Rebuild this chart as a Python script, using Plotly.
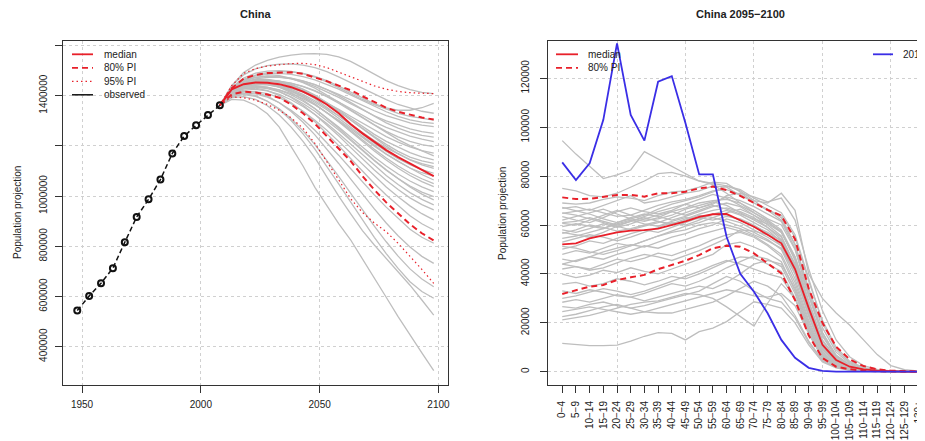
import plotly.graph_objects as go

# ---------------- data: left panel (total population, thousands) ----------------
obs_years = [1948, 1953, 1958, 1963, 1968, 1973, 1978, 1983, 1988, 1993, 1998, 2003, 2008]
obs_pop = [544000, 602000, 653000, 713000, 816000, 917000, 987000, 1066000, 1170000,
           1239000, 1282000, 1323000, 1361700]

proj_years = [2008, 2013, 2018, 2023, 2028, 2033, 2038, 2043, 2048, 2053, 2058, 2063,
              2068, 2073, 2078, 2083, 2088, 2093, 2098]

median_pop = [1361700, 1425000, 1446000, 1453000, 1452000, 1446000, 1434000, 1416000, 1393000,
              1365000, 1330000, 1287000, 1250000, 1215000, 1183000, 1155000, 1130000, 1104000, 1080000]
pi80_up_pop = [1361700, 1430000, 1468000, 1483000, 1490000, 1493000, 1493000, 1487000, 1474000,
               1458000, 1440000, 1422000, 1398000, 1374000, 1352000, 1336000, 1324000, 1313000, 1305000]
pi80_lo_pop = [1361700, 1405000, 1416000, 1413000, 1405000, 1392000, 1365000, 1330000, 1288000,
               1240000, 1190000, 1140000, 1080000, 1025000, 975000, 930000, 888000, 852000, 823000]
pi95_up_pop = [1361700, 1440000, 1489000, 1508000, 1518000, 1524000, 1528000, 1529000, 1524000,
               1512000, 1494000, 1474000, 1455000, 1439000, 1426000, 1417000, 1412000, 1409000, 1408000]
pi95_lo_pop = [1361700, 1395000, 1392000, 1382000, 1365000, 1342000, 1312000, 1270000, 1210000,
               1140000, 1065000, 990000, 935000, 893000, 858000, 812000, 762000, 708000, 652000]

sim_L01 = [1361700, 1440000, 1492000, 1522000, 1541000, 1554000, 1562000, 1567000, 1568000, 1565000, 1555000, 1537000, 1512000, 1485000, 1460000, 1440000, 1424000, 1413000, 1408000]
sim_L02 = [1361700, 1425000, 1462000, 1482000, 1492000, 1496000, 1495000, 1489000, 1477000, 1460000, 1438000, 1414000, 1390000, 1368000, 1351000, 1342000, 1342000, 1352000, 1369000]
sim_L03 = [1361700, 1440000, 1483000, 1507000, 1520000, 1526000, 1527000, 1522000, 1512000, 1496000, 1475000, 1452000, 1428000, 1405000, 1384000, 1365000, 1350000, 1338000, 1330000]
sim_L04 = [1361700, 1432000, 1470000, 1490000, 1498000, 1500000, 1497000, 1488000, 1474000, 1455000, 1432000, 1408000, 1385000, 1364000, 1346000, 1330000, 1318000, 1309000, 1303000]
sim_L05 = [1361700, 1420000, 1452000, 1467000, 1473000, 1473000, 1468000, 1458000, 1444000, 1426000, 1405000, 1383000, 1361000, 1340000, 1321000, 1305000, 1292000, 1283000, 1277000]
sim_L06 = [1361700, 1428000, 1460000, 1474000, 1478000, 1475000, 1467000, 1454000, 1437000, 1416000, 1393000, 1368000, 1343000, 1320000, 1300000, 1283000, 1268000, 1257000, 1250000]
sim_L07 = [1361700, 1418000, 1446000, 1458000, 1461000, 1458000, 1450000, 1437000, 1420000, 1399000, 1375000, 1349000, 1322000, 1296000, 1274000, 1255000, 1239000, 1227000, 1217000]
sim_L08 = [1361700, 1430000, 1465000, 1480000, 1484000, 1480000, 1469000, 1452000, 1430000, 1404000, 1375000, 1344000, 1313000, 1284000, 1258000, 1236000, 1218000, 1205000, 1197000]
sim_L09 = [1361700, 1412000, 1436000, 1445000, 1446000, 1440000, 1429000, 1414000, 1395000, 1372000, 1346000, 1318000, 1290000, 1262000, 1237000, 1215000, 1196000, 1181000, 1171000]
sim_L10 = [1361700, 1422000, 1452000, 1464000, 1465000, 1458000, 1445000, 1426000, 1402000, 1374000, 1343000, 1310000, 1277000, 1246000, 1218000, 1194000, 1173000, 1156000, 1144000]
sim_L11 = [1361700, 1415000, 1440000, 1449000, 1448000, 1440000, 1425000, 1405000, 1380000, 1351000, 1319000, 1286000, 1253000, 1221000, 1192000, 1167000, 1145000, 1129000, 1117000]
sim_L12 = [1361700, 1426000, 1455000, 1465000, 1464000, 1455000, 1439000, 1416000, 1388000, 1355000, 1320000, 1283000, 1246000, 1211000, 1178000, 1149000, 1125000, 1105000, 1091000]
sim_L13 = [1361700, 1408000, 1428000, 1434000, 1432000, 1423000, 1408000, 1388000, 1363000, 1334000, 1302000, 1268000, 1233000, 1199000, 1167000, 1138000, 1112000, 1086000, 1064000]
sim_L14 = [1361700, 1418000, 1443000, 1451000, 1449000, 1438000, 1420000, 1396000, 1367000, 1333000, 1296000, 1257000, 1218000, 1180000, 1144000, 1111000, 1082000, 1058000, 1038000]
sim_L15 = [1361700, 1410000, 1432000, 1438000, 1434000, 1422000, 1403000, 1378000, 1348000, 1313000, 1275000, 1235000, 1195000, 1156000, 1120000, 1088000, 1060000, 1037000, 1018000]
sim_L16 = [1361700, 1422000, 1447000, 1453000, 1448000, 1434000, 1412000, 1383000, 1349000, 1311000, 1270000, 1227000, 1184000, 1143000, 1105000, 1070000, 1040000, 1016000, 998000]
sim_L17 = [1361700, 1405000, 1422000, 1425000, 1419000, 1405000, 1384000, 1357000, 1325000, 1289000, 1249000, 1207000, 1164000, 1122000, 1082000, 1046000, 1014000, 987000, 965000]
sim_L18 = [1361700, 1415000, 1436000, 1440000, 1433000, 1417000, 1393000, 1362000, 1325000, 1284000, 1240000, 1194000, 1148000, 1104000, 1063000, 1026000, 993000, 966000, 945000]
sim_L19 = [1361700, 1400000, 1415000, 1416000, 1408000, 1392000, 1368000, 1338000, 1302000, 1262000, 1218000, 1172000, 1125000, 1079000, 1036000, 997000, 961000, 930000, 905000]
sim_L20 = [1361700, 1410000, 1428000, 1430000, 1420000, 1400000, 1372000, 1337000, 1296000, 1250000, 1201000, 1150000, 1099000, 1050000, 1004000, 961000, 922000, 890000, 865000]
sim_L21 = [1361700, 1398000, 1410000, 1407000, 1394000, 1372000, 1342000, 1305000, 1262000, 1214000, 1163000, 1110000, 1057000, 1005000, 956000, 910000, 868000, 836000, 812000]
sim_L22 = [1361700, 1405000, 1418000, 1414000, 1398000, 1372000, 1337000, 1294000, 1244000, 1189000, 1130000, 1069000, 1008000, 949000, 893000, 842000, 797000, 760000, 732000]
sim_L23 = [1361700, 1395000, 1404000, 1397000, 1378000, 1348000, 1308000, 1260000, 1205000, 1144000, 1079000, 1012000, 945000, 880000, 818000, 761000, 710000, 670000, 639000]
sim_L24 = [1361700, 1400000, 1408000, 1400000, 1378000, 1345000, 1301000, 1248000, 1187000, 1120000, 1049000, 977000, 905000, 836000, 771000, 712000, 659000, 620000, 593000]
sim_L25 = [1361700, 1392000, 1396000, 1385000, 1360000, 1323000, 1275000, 1218000, 1153000, 1075000, 1000000, 930000, 862000, 805000, 752000, 700000, 645000, 586000, 526000]
sim_L26 = [1361700, 1385000, 1382000, 1362000, 1328000, 1275000, 1197000, 1120000, 1035000, 963000, 890000, 826000, 751000, 672000, 597000, 520000, 445000, 375000, 305000]
sim_L27 = [1361700, 1420000, 1448000, 1460000, 1462000, 1456000, 1443000, 1424000, 1400000, 1371000, 1338000, 1303000, 1267000, 1232000, 1199000, 1169000, 1144000, 1124000, 1110000]
sim_L28 = [1361700, 1414000, 1442000, 1455000, 1459000, 1457000, 1449000, 1436000, 1418000, 1396000, 1370000, 1341000, 1310000, 1280000, 1251000, 1225000, 1201000, 1180000, 1160000]
sim_L29 = [1361700, 1425000, 1457000, 1472000, 1477000, 1476000, 1470000, 1459000, 1444000, 1424000, 1400000, 1373000, 1345000, 1317000, 1292000, 1271000, 1254000, 1242000, 1235000]
sim_L30 = [1361700, 1412000, 1436000, 1444000, 1443000, 1435000, 1420000, 1400000, 1374000, 1344000, 1310000, 1274000, 1237000, 1201000, 1168000, 1138000, 1112000, 1093000, 1080000]
sim_L31 = [1361700, 1416000, 1440000, 1447000, 1444000, 1434000, 1417000, 1394000, 1366000, 1334000, 1299000, 1262000, 1224000, 1187000, 1152000, 1120000, 1092000, 1069000, 1050000]
sim_L32 = [1361700, 1418000, 1446000, 1457000, 1458000, 1452000, 1439000, 1420000, 1396000, 1368000, 1337000, 1304000, 1270000, 1237000, 1206000, 1178000, 1155000, 1140000, 1130000]
sim_L33 = [1361700, 1426000, 1462000, 1480000, 1488000, 1489000, 1485000, 1476000, 1463000, 1446000, 1426000, 1403000, 1380000, 1357000, 1336000, 1318000, 1304000, 1295000, 1290000]
sim_L34 = [1361700, 1408000, 1428000, 1433000, 1428000, 1415000, 1395000, 1369000, 1338000, 1302000, 1263000, 1222000, 1181000, 1141000, 1103000, 1068000, 1036000, 1008000, 985000]

left_sims = [sim_L01, sim_L02, sim_L03, sim_L04, sim_L05, sim_L06, sim_L07, sim_L08, sim_L09,
             sim_L10, sim_L11, sim_L12, sim_L13, sim_L14, sim_L15, sim_L16, sim_L17, sim_L18,
             sim_L19, sim_L20, sim_L21, sim_L22, sim_L23, sim_L24, sim_L25, sim_L26, sim_L27,
             sim_L28, sim_L29, sim_L30, sim_L31, sim_L32, sim_L33, sim_L34]

# ---------------- data: right panel (age distribution 2095-2100) ----------------
age_labels = ["0−4", "5−9", "10−14", "15−19", "20−24", "25−29", "30−34", "35−39", "40−44",
              "45−49", "50−54", "55−59", "60−64", "65−69", "70−74", "75−79", "80−84", "85−89",
              "90−94", "95−99", "100−104", "105−109", "110−114", "115−119", "120−124",
              "125−129", "130+"]

pop_2010 = [85600, 78400, 85200, 103000, 134300, 105000, 94500, 118600, 120900, 101600, 80700,
            80700, 55200, 40000, 32700, 23900, 13000, 5700, 1600, 300, 30, 0, 0, 0, 0, 0, 0]
age_median = [52100, 52500, 54500, 55800, 57000, 57700, 57900, 58500, 59900, 61500, 63300, 64400,
              64500, 62000, 59300, 56000, 52500, 42000, 26000, 11000, 4800, 2050, 980, 400, 150, 50, 20]
age_pi80_up = [71300, 70600, 70700, 71600, 72300, 72300, 71600, 73000, 73000, 73600, 75000, 75700,
               74300, 71900, 68900, 66200, 63800, 54200, 34000, 20000, 10200, 5000, 2300, 980, 400, 150, 50]
age_pi80_lo = [31800, 33400, 34800, 35500, 37500, 38600, 39600, 41900, 43600, 45400, 47700, 50500,
               51500, 51100, 48400, 44300, 40200, 29300, 14800, 5600, 2050, 980, 400, 150, 50, 20, 10]

sim_R01 = [94500, 89000, 84000, 79000, 80500, 82500, 90000, 87000, 84000, 81000, 78000, 76500, 73000, 69000, 65000, 61500, 57000, 47000, 31000, 16000, 6500, 2700, 1000, 400, 150, 50, 20]
sim_R02 = [75000, 74000, 72000, 71500, 73000, 75500, 78000, 81000, 81500, 80000, 78000, 77000, 76000, 74000, 70000, 66000, 62000, 52000, 34000, 18000, 8000, 3300, 1300, 500, 180, 60, 20]
sim_R03 = [69000, 68500, 69000, 70500, 71500, 71000, 70000, 72000, 73500, 74000, 75500, 77500, 77000, 73500, 69000, 66000, 64000, 55000, 37000, 21000, 10000, 4200, 1700, 600, 200, 70, 20]
sim_R04 = [66800, 67500, 66000, 68000, 70000, 72000, 69000, 70000, 71500, 73000, 74000, 76000, 75500, 72000, 70000, 69000, 73000, 66000, 40000, 30000, 24000, 19000, 13000, 7000, 2500, 800, 300]
sim_R05 = [64800, 65500, 66500, 65000, 63500, 64000, 66000, 68000, 69500, 70500, 72000, 74000, 74500, 72500, 69000, 66500, 63000, 52000, 33000, 16000, 6800, 2800, 1100, 420, 150, 50, 20]
sim_R06 = [63400, 62000, 61000, 63000, 65500, 67000, 65500, 64500, 66000, 68500, 70500, 72500, 71000, 68000, 65000, 62000, 58000, 47000, 29000, 13000, 5500, 2200, 900, 350, 120, 40, 10]
sim_R07 = [62000, 63500, 65000, 66500, 64500, 62500, 61500, 63000, 65500, 67000, 69000, 70000, 70500, 69000, 66000, 62500, 60000, 50000, 31000, 14500, 6000, 2400, 950, 370, 130, 40, 10]
sim_R08 = [60700, 60000, 62000, 64000, 66000, 64000, 62000, 62500, 64000, 66500, 68000, 69500, 68000, 65000, 62000, 59000, 55000, 44000, 27000, 11500, 4800, 1900, 750, 300, 100, 30, 10]
sim_R09 = [59300, 60500, 59500, 58500, 61000, 63000, 64500, 63500, 62000, 63500, 65500, 67500, 69000, 67500, 64000, 60000, 55500, 43000, 25000, 10500, 4300, 1700, 700, 260, 90, 30, 10]
sim_R10 = [58000, 57000, 58500, 60500, 59000, 60500, 62500, 64000, 65500, 64000, 66000, 68000, 66500, 64500, 62500, 60500, 57000, 46000, 28000, 12500, 5200, 2100, 850, 330, 110, 40, 10]
sim_R11 = [56600, 58000, 60000, 59000, 57500, 58500, 60000, 61500, 60500, 62500, 64500, 66000, 67000, 65500, 63000, 59000, 54000, 41000, 23000, 9000, 3600, 1400, 550, 200, 70, 20, 10]
sim_R12 = [54500, 55500, 57000, 58500, 60500, 62000, 60500, 59500, 61500, 63000, 62500, 64500, 66000, 64000, 61000, 58000, 53000, 41500, 24500, 10000, 4000, 1600, 640, 240, 80, 30, 10]
sim_R13 = [50100, 51500, 53500, 52500, 54500, 56500, 58000, 57000, 59000, 61000, 63000, 62000, 63500, 62500, 60000, 56500, 51500, 40000, 22500, 9000, 3700, 1500, 600, 230, 80, 30, 10]
sim_R14 = [48000, 49500, 48500, 50500, 52500, 51500, 53500, 55500, 57500, 59500, 61000, 63000, 61500, 59500, 57000, 54000, 50000, 38000, 21000, 8200, 3300, 1300, 520, 200, 70, 20, 10]
sim_R15 = [46000, 45000, 47000, 49000, 50500, 52000, 51000, 53000, 55000, 56500, 58500, 60000, 62500, 61000, 58000, 55000, 51500, 41000, 24000, 9800, 4000, 1600, 640, 240, 80, 30, 10]
sim_R16 = [44000, 45500, 47000, 46000, 48000, 49500, 51500, 50500, 52500, 54000, 56000, 57500, 59000, 57500, 55500, 52000, 48000, 36500, 20000, 7600, 3000, 1200, 480, 180, 60, 20, 10]
sim_R17 = [42000, 43000, 42000, 44000, 46000, 45000, 46500, 48500, 47500, 49500, 51500, 54000, 56000, 57000, 55000, 51500, 47000, 35000, 19000, 7000, 2800, 1100, 440, 170, 60, 20, 10]
sim_R18 = [39900, 38500, 39500, 41500, 40500, 42500, 41000, 40000, 42000, 44000, 46000, 48000, 52000, 53000, 51000, 48500, 45000, 33000, 17500, 6500, 2600, 1000, 400, 150, 50, 20, 10]
sim_R19 = [35800, 36500, 35000, 36000, 38000, 37000, 35500, 37000, 39000, 38000, 40000, 42500, 45000, 47000, 46500, 44000, 41000, 30000, 15500, 5500, 2200, 900, 350, 130, 40, 10, 0]
sim_R20 = [33100, 32000, 33500, 32500, 31000, 30500, 32000, 34000, 36000, 35000, 37000, 39500, 42500, 45000, 47500, 46000, 43000, 32000, 17000, 6000, 2400, 950, 380, 140, 50, 20, 0]
sim_R21 = [28400, 29500, 28500, 30000, 31500, 30500, 29000, 30500, 32000, 33500, 35000, 34000, 36500, 40000, 44000, 45500, 44000, 34000, 18500, 7000, 2800, 1100, 440, 170, 60, 20, 10]
sim_R22 = [26600, 26000, 27500, 28500, 27000, 26000, 27000, 28500, 30000, 31500, 33000, 36000, 39000, 37000, 33000, 30000, 28500, 22000, 12000, 4500, 1800, 700, 280, 100, 30, 10, 0]
sim_R23 = [24600, 25500, 26500, 25500, 24500, 23500, 24500, 26000, 27500, 29000, 30500, 32000, 33500, 32500, 31000, 30500, 32000, 27000, 15500, 5800, 2300, 900, 360, 140, 50, 20, 0]
sim_R24 = [22500, 23500, 25000, 26500, 27500, 26000, 24500, 24000, 24000, 25500, 27000, 28500, 31000, 34000, 37000, 35000, 31000, 23000, 12500, 4700, 1900, 750, 300, 110, 40, 10, 0]
sim_R25 = [21200, 22000, 23000, 24500, 26000, 27500, 28500, 29000, 30500, 32000, 31500, 30000, 26500, 22500, 18700, 28000, 36000, 30000, 17000, 6500, 2600, 1000, 400, 150, 50, 20, 0]
sim_R26 = [11600, 11000, 10700, 10700, 10900, 12500, 14500, 16000, 15700, 13000, 16400, 17800, 20500, 24500, 28600, 27500, 26000, 20000, 11000, 4000, 1600, 600, 250, 90, 30, 10, 0]
sim_R27 = [61000, 61500, 63000, 61500, 60000, 61500, 63500, 65500, 67000, 68500, 67000, 69000, 71500, 70000, 67500, 64500, 61500, 50500, 32000, 15000, 6200, 2500, 1000, 380, 130, 40, 10]
sim_R28 = [57000, 56000, 55000, 57000, 59500, 61500, 63000, 61500, 60000, 62000, 64000, 63000, 65000, 66500, 64000, 61000, 57500, 45500, 27000, 11500, 4700, 1900, 760, 290, 100, 30, 10]
sim_R29 = [53000, 54500, 56000, 55000, 53500, 55000, 57000, 59000, 61000, 60000, 62000, 64500, 64000, 62000, 59500, 57000, 53500, 42500, 25500, 10500, 4300, 1700, 680, 260, 90, 30, 10]
sim_R30 = [67200, 66000, 64500, 62500, 61000, 62500, 64000, 66500, 68500, 70000, 71500, 73500, 76000, 74500, 71000, 68000, 65000, 56000, 38000, 20000, 9000, 3700, 1500, 560, 200, 60, 20]
sim_R31 = [65000, 64000, 62500, 61000, 59500, 58000, 59500, 61000, 63000, 65000, 67000, 68500, 72000, 73000, 71500, 69500, 71000, 62000, 42000, 25000, 13000, 6000, 2500, 900, 300, 100, 30]
sim_R32 = [51300, 50500, 49000, 48000, 49500, 51500, 53500, 55500, 57000, 58000, 60000, 61000, 60000, 58500, 56000, 53500, 50500, 40000, 23500, 9500, 3900, 1600, 640, 240, 80, 30, 10]
sim_R33 = [44000, 43000, 41500, 42500, 44500, 46500, 48000, 47000, 45500, 47500, 49500, 52000, 54500, 58000, 57500, 56000, 54000, 44000, 26000, 11000, 4500, 1800, 720, 270, 90, 30, 10]
sim_R34 = [30000, 31000, 32500, 34000, 33000, 31500, 33000, 35000, 37000, 39000, 41000, 43500, 45500, 44000, 42000, 40000, 38500, 30000, 16000, 6000, 2400, 950, 380, 140, 50, 20, 0]

right_sims = [sim_R01, sim_R02, sim_R03, sim_R04, sim_R05, sim_R06, sim_R07, sim_R08, sim_R09,
              sim_R10, sim_R11, sim_R12, sim_R13, sim_R14, sim_R15, sim_R16, sim_R17, sim_R18,
              sim_R19, sim_R20, sim_R21, sim_R22, sim_R23, sim_R24, sim_R25, sim_R26, sim_R27,
              sim_R28, sim_R29, sim_R30, sim_R31, sim_R32, sim_R33, sim_R34]

left_xticks = [1950, 2000, 2050, 2100]
left_yticks = [400000, 600000, 800000, 1000000, 1200000, 1400000, 1600000]
left_ylabels = ["400000", "600000", "800000", "1000000", "", "1400000", ""]
right_yticks = [0, 20000, 40000, 60000, 80000, 100000, 120000]
right_ylabels = ["0", "20000", "40000", "60000", "80000", "100000", "120000"]
right_grid_ages = ["20−24", "45−49", "70−74", "95−99", "120−124"]

# ---------------- styling ----------------
# the page body has an 8px margin; the figure is sized so it ends at the window edge
PAGE_OFF = 8
W, H = 925 - PAGE_OFF, 441 - PAGE_OFF
FONT = "Liberation Sans, Arial, Helvetica, sans-serif"
GRAY = "#bebebe"
RED = "#e8202a"
BLUE = "#3a2ee6"
BLACK = "#111111"
AX = "#333333"


def fx(px):
    return (px - PAGE_OFF) / W


def fy(py):
    return 1 - (py - PAGE_OFF) / H


age_pos = list(range(len(age_labels)))
grid_pos = [age_labels.index(a) for a in right_grid_ages]

fig = go.Figure()

# left panel
for s in left_sims:
    fig.add_trace(go.Scatter(x=proj_years, y=s, mode="lines", line=dict(color=GRAY, width=1.3),
                             xaxis="x", yaxis="y", showlegend=False, hoverinfo="skip"))
fig.add_trace(go.Scatter(x=proj_years, y=pi95_up_pop, mode="lines",
                         line=dict(color=RED, width=1.2, dash="1.5px,3px"), xaxis="x", yaxis="y", showlegend=False))
fig.add_trace(go.Scatter(x=proj_years, y=pi95_lo_pop, mode="lines",
                         line=dict(color=RED, width=1.2, dash="1.5px,3px"), xaxis="x", yaxis="y", showlegend=False))
fig.add_trace(go.Scatter(x=proj_years, y=pi80_up_pop, mode="lines",
                         line=dict(color=RED, width=2, dash="6px,4px"), xaxis="x", yaxis="y", showlegend=False))
fig.add_trace(go.Scatter(x=proj_years, y=pi80_lo_pop, mode="lines",
                         line=dict(color=RED, width=2, dash="6px,4px"), xaxis="x", yaxis="y", showlegend=False))
fig.add_trace(go.Scatter(x=proj_years, y=median_pop, mode="lines",
                         line=dict(color=RED, width=2), xaxis="x", yaxis="y", showlegend=False))
fig.add_trace(go.Scatter(x=obs_years, y=obs_pop, mode="lines+markers",
                         line=dict(color=BLACK, width=1.5, dash="5px,3px"),
                         marker=dict(symbol="circle-open", size=6, color=BLACK, line=dict(width=2)),
                         xaxis="x", yaxis="y", showlegend=False))

# right panel
for s in right_sims:
    fig.add_trace(go.Scatter(x=age_pos, y=s, mode="lines", line=dict(color=GRAY, width=1.3),
                             xaxis="x2", yaxis="y2", showlegend=False, hoverinfo="skip"))
fig.add_trace(go.Scatter(x=age_pos, y=age_pi80_up, mode="lines",
                         line=dict(color=RED, width=2, dash="6px,4px"), xaxis="x2", yaxis="y2", showlegend=False))
fig.add_trace(go.Scatter(x=age_pos, y=age_pi80_lo, mode="lines",
                         line=dict(color=RED, width=2, dash="6px,4px"), xaxis="x2", yaxis="y2", showlegend=False))
fig.add_trace(go.Scatter(x=age_pos, y=age_median, mode="lines",
                         line=dict(color=RED, width=1.8), xaxis="x2", yaxis="y2", showlegend=False))
fig.add_trace(go.Scatter(x=age_pos, y=pop_2010, mode="lines",
                         line=dict(color=BLUE, width=1.8), xaxis="x2", yaxis="y2", showlegend=False))

common = dict(showline=True, linecolor=AX, linewidth=1, ticks="outside", ticklen=7,
              tickcolor=AX, tickwidth=1, tickfont=dict(size=10, color="#222", family=FONT),
              gridcolor="#d0d0d0", griddash="dot", gridwidth=1, zeroline=False, automargin=False)

ydom = [fy(385), fy(41)]
fig.update_layout(
    width=W, height=H, margin=dict(l=0, r=0, t=0, b=0, autoexpand=False),
    paper_bgcolor="white", plot_bgcolor="white", font=dict(family=FONT, color="#222"),
    showlegend=False,
    xaxis=dict(common, domain=[fx(63), fx(448)], range=[1942, 2104], anchor="y",
               tickmode="array", tickvals=left_xticks, ticktext=[str(v) for v in left_xticks],
               mirror=True, showgrid=True, ticklabelstandoff=3),
    yaxis=dict(common, domain=ydom, range=[247400, 1617900], anchor="x",
               tickmode="array", tickvals=left_yticks, ticktext=left_ylabels, tickangle=-90,
               mirror=True, showgrid=True, ticklabelstandoff=4),
    xaxis2=dict(common, domain=[fx(548), 1.0], range=[-1.04, 26.49], anchor="y2",
                tickmode="array", tickvals=age_pos, ticktext=age_labels, tickangle=-90,
                mirror=True, showgrid=False, ticklabelstandoff=4,
                minor=dict(tickmode="array", tickvals=grid_pos, showgrid=True, ticks="",
                           gridcolor="#d0d0d0", griddash="dot", gridwidth=1)),
    yaxis2=dict(common, domain=ydom, range=[-5440, 135260], anchor="x2",
                tickmode="array", tickvals=right_yticks, ticktext=right_ylabels, tickangle=-90,
                mirror=False, showgrid=True, ticklabelstandoff=7),
)

annotations = [
    dict(text="<b>China</b>", x=fx(255.5), y=fy(14), font=dict(size=11)),
    dict(text="<b>China 2095−2100</b>", x=fx(740), y=fy(14), font=dict(size=11)),
    dict(text="Population projection", x=fx(17), y=fy(213), textangle=-90, font=dict(size=10)),
    dict(text="Population projection", x=fx(502), y=fy(213), textangle=-90, font=dict(size=10)),
]
for a in annotations:
    a.update(xref="paper", yref="paper", showarrow=False, xanchor="center", yanchor="middle")

shapes = []
# legends (keys + labels)
left_legend = [("median", RED, "solid", 1.8), ("80% PI", RED, "6px,4px", 1.8),
               ("95% PI", RED, "1.5px,3px", 1.2), ("observed", BLACK, "solid", 1.5)]
right_legend = [("median", RED, "solid", 1.8), ("80% PI", RED, "6px,4px", 1.8)]


def add_legend(items, kx0, kx1, tx, y0, dy):
    for i, (lab, col, dash, w) in enumerate(items):
        yy = y0 + i * dy
        shapes.append(dict(type="line", xref="paper", yref="paper", x0=fx(kx0), x1=fx(kx1),
                           y0=fy(yy), y1=fy(yy), line=dict(color=col, width=w, dash=dash)))
        annotations.append(dict(text=lab, x=fx(tx), y=fy(yy), xref="paper", yref="paper",
                                showarrow=False, xanchor="left", yanchor="middle",
                                font=dict(size=10, color="#222")))


add_legend(left_legend, 72, 93, 102, 54.3, 13.5)
add_legend(right_legend, 556, 578, 586, 54.3, 13.5)
add_legend([("2010", BLUE, "solid", 1.8)], 873, 893, 901, 54.3, 13.5)

fig.update_layout(annotations=annotations, shapes=shapes)

fig.write_html("out.html")
